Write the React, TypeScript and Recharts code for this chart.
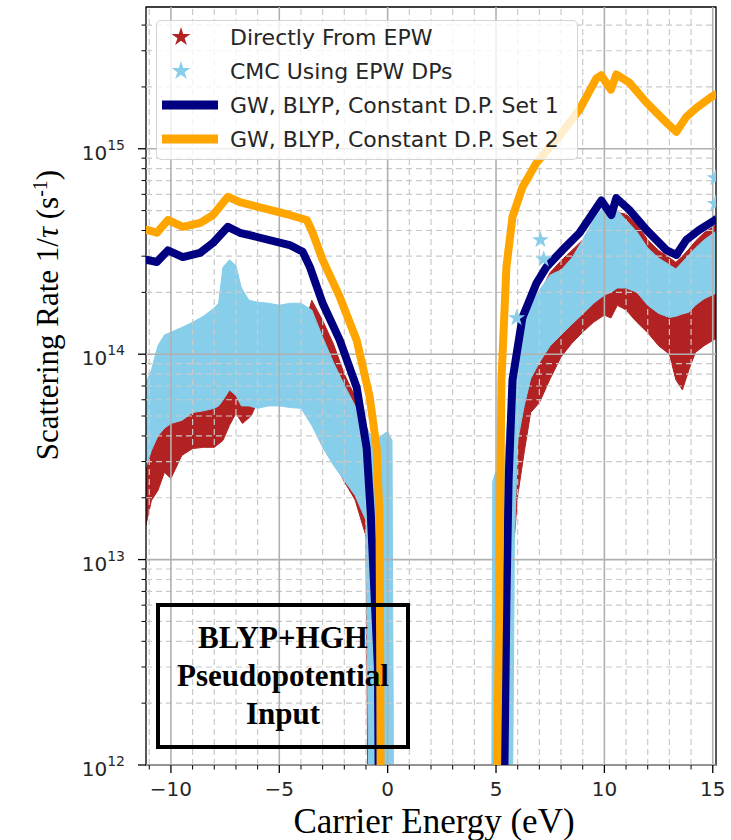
import React from "react";
import {
  ComposedChart,
  Area,
  Line,
  Scatter,
  XAxis,
  YAxis,
  ReferenceLine,
  ReferenceArea,
  Legend,
  Symbols,
} from "recharts";

// Directly From EPW (red cloud): [energy eV, lower edge, upper edge]
const epwValence: [number, number, number][] = [
  [-11.2, 1.4e13, 3.0e13],
  [-10.9, 1.94e13, 3.7e13],
  [-10.6, 2.17e13, 4.3e13],
  [-10.3, 2.66e13, 4.7e13],
  [-10.0, 2.48e13, 5.0e13],
  [-9.5, 3.21e13, 5.2e13],
  [-9.0, 3.47e13, 5.7e13],
  [-8.5, 3.52e13, 5.8e13],
  [-8.0, 3.52e13, 6.0e13],
  [-7.6, 3.8e13, 6.5e13],
  [-7.3, 4.5e13, 7.3e13],
  [-7.0, 5.15e13, 7.0e13],
  [-6.7, 4.6e13, 6.2e13],
  [-6.3, 5.0e13, 6.2e13],
  [-6.0, 5.9e13, 6.5e13],
  [-5.0, 6.0e13, 8.0e13],
  [-4.0, 6.0e13, 1.2e14],
  [-3.5, 5.5e13, 1.83e14],
  [-3.0, 3.7e13, 1.46e14],
  [-2.5, 3.0e13, 1.12e14],
  [-2.0, 2.4e13, 8.0e13],
  [-1.5, 1.95e13, 6.2e13],
  [-1.0, 1.3e13, 4.5e13],
  [-0.9, 5e11, 4.2e13],
  [-0.5, 5e11, 3.5e13],
  [-0.2, 5e11, 3.0e13],
  [0.1, 5e11, 5e11],
];

const epwConduction: [number, number, number][] = [
  [5.76, 9.9e12, 1.0e13],
  [6.0, 2.05e13, 9.0e13],
  [6.3, 3.33e13, 1.4e14],
  [6.6, 5.2e13, 1.65e14],
  [7.0, 5.8e13, 1.95e14],
  [7.5, 7.6e13, 2.5e14],
  [8.0, 9.7e13, 2.85e14],
  [8.5, 1.13e14, 3.2e14],
  [9.0, 1.28e14, 3.6e14],
  [9.5, 1.43e14, 4.3e14],
  [10.0, 1.55e14, 5.0e14],
  [10.3, 1.5e14, 4.6e14],
  [10.6, 1.73e14, 4.9e14],
  [11.0, 1.64e14, 4.8e14],
  [11.5, 1.43e14, 4.3e14],
  [12.0, 1.27e14, 3.6e14],
  [12.5, 1.1e14, 3.2e14],
  [13.0, 1.0e14, 2.95e14],
  [13.3, 7.5e13, 2.8e14],
  [13.6, 6.7e13, 3.0e14],
  [13.9, 8.4e13, 3.25e14],
  [14.2, 1.02e14, 3.55e14],
  [14.6, 1.1e14, 3.9e14],
  [15.2, 1.2e14, 4.3e14],
];

// CMC Using EPW DPs (light blue cloud)
const cmcValence: [number, number, number][] = [
  [-11.2, 2.72e13, 7.06e13],
  [-10.9, 3.4e13, 8.36e13],
  [-10.6, 4.0e13, 1.1e14],
  [-10.3, 4.36e13, 1.24e14],
  [-10.0, 4.6e13, 1.28e14],
  [-9.5, 4.76e13, 1.35e14],
  [-9.0, 5.2e13, 1.43e14],
  [-8.5, 5.3e13, 1.53e14],
  [-8.0, 5.45e13, 1.68e14],
  [-7.8, 5.6e13, 1.77e14],
  [-7.6, 5.97e13, 2.65e14],
  [-7.3, 6.7e13, 2.88e14],
  [-7.0, 6.3e13, 2.7e14],
  [-6.75, 5.6e13, 2.1e14],
  [-6.4, 5.6e13, 1.83e14],
  [-6.0, 5.45e13, 1.79e14],
  [-5.5, 5.6e13, 1.77e14],
  [-5.0, 5.6e13, 1.73e14],
  [-4.5, 5.5e13, 1.77e14],
  [-4.0, 5.45e13, 1.77e14],
  [-3.5, 4.5e13, 1.64e14],
  [-3.0, 3.52e13, 1.21e14],
  [-2.5, 2.88e13, 9.1e13],
  [-2.0, 2.43e13, 7.06e13],
  [-1.5, 2.05e13, 5.6e13],
  [-1.0, 1.55e13, 4.36e13],
  [-0.85, 5e11, 4.1e13],
  [-0.5, 5e11, 3.8e13],
  [-0.3, 5e11, 4.0e13],
  [0.0, 5e11, 4.2e13],
  [0.2, 5e11, 3.8e13],
  [0.28, 5e11, 5e11],
];

const cmcConduction: [number, number, number][] = [
  [4.8, 5e11, 5e11],
  [4.85, 5e11, 2.4e13],
  [5.0, 5e11, 2.7e13],
  [5.4, 5e11, 3.0e13],
  [5.6, 5e11, 6.0e13],
  [5.75, 5e11, 7.6e13],
  [5.85, 1.24e13, 8.6e13],
  [6.0, 3.8e13, 9.9e13],
  [6.3, 5.6e13, 1.47e14],
  [6.6, 7.6e13, 1.73e14],
  [7.0, 9.1e13, 2.05e14],
  [7.5, 1.1e14, 2.43e14],
  [8.0, 1.24e14, 2.57e14],
  [8.5, 1.4e14, 2.94e14],
  [9.0, 1.57e14, 3.6e14],
  [9.5, 1.77e14, 4.5e14],
  [10.0, 1.94e14, 5.3e14],
  [10.3, 2.0e14, 4.76e14],
  [10.6, 2.1e14, 5.0e14],
  [11.0, 2.1e14, 4.5e14],
  [11.5, 2.0e14, 3.94e14],
  [12.0, 1.73e14, 3.29e14],
  [12.5, 1.58e14, 2.94e14],
  [13.0, 1.51e14, 2.72e14],
  [13.3, 1.53e14, 2.6e14],
  [13.6, 1.57e14, 2.81e14],
  [13.9, 1.6e14, 3.04e14],
  [14.2, 1.73e14, 3.29e14],
  [14.6, 1.86e14, 3.6e14],
  [15.2, 1.99e14, 4.0e14],
];

// a few stray CMC stars sticking out of the cloud
const cmcStrays: [number, number][] = [
  [7.05, 3.6e14],
  [7.2, 2.9e14],
  [5.95, 1.5e14],
  [15.12, 7.2e14],
  [15.12, 5.4e14],
];

// GW, BLYP, Constant D.P. Set 1 (navy)
const set1Valence: [number, number][] = [
  [-11.2, 2.85e14],
  [-11.1, 2.88e14],
  [-10.65, 2.81e14],
  [-10.14, 3.2e14],
  [-9.45, 2.97e14],
  [-8.66, 3.11e14],
  [-8.06, 3.48e14],
  [-7.37, 4.17e14],
  [-6.82, 3.9e14],
  [-4.52, 3.4e14],
  [-3.92, 3.15e14],
  [-3.59, 2.66e14],
  [-3.0, 1.77e14],
  [-2.21, 1.17e14],
  [-1.43, 6.9e13],
  [-0.97, 3.5e13],
  [-0.78, 1.68e13],
  [-0.45, 3e12],
  [-0.4, 5e11],
];

const set1Conduction: [number, number][] = [
  [5.3, 5e11],
  [5.39, 1e12],
  [5.48, 6.3e12],
  [5.58, 2.43e13],
  [5.76, 7.5e13],
  [6.22, 1.51e14],
  [6.87, 2.22e14],
  [7.33, 2.66e14],
  [8.06, 3.21e14],
  [8.85, 3.89e14],
  [9.86, 5.6e14],
  [10.32, 4.76e14],
  [10.55, 5.75e14],
  [11.15, 5.04e14],
  [11.94, 4.03e14],
  [12.86, 3.21e14],
  [13.32, 3.04e14],
  [13.78, 3.6e14],
  [14.38, 4.03e14],
  [15.12, 4.51e14],
  [15.2, 4.6e14],
];

// GW, BLYP, Constant D.P. Set 2 (orange)
const set2Valence: [number, number][] = [
  [-11.2, 4.0e14],
  [-11.1, 4.03e14],
  [-10.65, 3.9e14],
  [-10.14, 4.5e14],
  [-9.45, 4.17e14],
  [-8.66, 4.35e14],
  [-8.06, 4.76e14],
  [-7.37, 5.84e14],
  [-6.82, 5.5e14],
  [-4.52, 4.76e14],
  [-3.73, 4.5e14],
  [-3.46, 3.9e14],
  [-3.0, 2.88e14],
  [-2.21, 1.9e14],
  [-1.43, 1.17e14],
  [-0.83, 6.2e13],
  [-0.51, 3.5e13],
  [-0.38, 1.67e13],
  [-0.34, 3e12],
  [-0.32, 5e11],
];

const set2Conduction: [number, number][] = [
  [4.98, 5e11],
  [5.05, 1e12],
  [5.15, 6.3e12],
  [5.25, 7.5e13],
  [5.48, 2.66e14],
  [5.76, 4.66e14],
  [6.22, 6.5e14],
  [6.87, 8.55e14],
  [7.79, 1.11e15],
  [8.85, 1.55e15],
  [9.63, 2.2e15],
  [9.85, 2.28e15],
  [10.3, 1.94e15],
  [10.55, 2.3e15],
  [11.15, 2.1e15],
  [11.94, 1.68e15],
  [12.86, 1.34e15],
  [13.32, 1.21e15],
  [13.78, 1.43e15],
  [14.24, 1.58e15],
  [14.98, 1.8e15],
  [15.2, 1.85e15],
];

const xMajorTicks = [-10, -5, 0, 5, 10, 15];
const xMinorTicks = [-11, -9, -8, -7, -6, -4, -3, -2, -1, 1, 2, 3, 4, 6, 7, 8, 9, 11, 12, 13, 14];
const yMajorTicks = [1e12, 1e13, 1e14, 1e15];
const yMinorTicks = [
  2e12, 3e12, 4e12, 5e12, 6e12, 7e12, 8e12, 9e12,
  2e13, 3e13, 4e13, 5e13, 6e13, 7e13, 8e13, 9e13,
  2e14, 3e14, 4e14, 5e14, 6e14, 7e14, 8e14, 9e14,
  2e15, 3e15, 4e15,
];

const legendItems = [
  { label: "Directly From EPW", color: "#b22222", kind: "star" },
  { label: "CMC Using EPW DPs", color: "#87ceeb", kind: "star" },
  { label: "GW, BLYP, Constant D.P. Set 1", color: "#000080", kind: "line" },
  { label: "GW, BLYP, Constant D.P. Set 2", color: "#ffa500", kind: "line" },
];

const X_DOMAIN: [number, number] = [-11.15, 15.15];
const Y_DOMAIN: [number, number] = [1e12, 4.9e15];

const toBand = (rows: [number, number, number][]) =>
  rows.map(([e, lo, hi]) => ({ e, r: [lo, hi] }));
const toCurve = (rows: [number, number][]) => rows.map(([e, r]) => ({ e, r }));

const TICK_FONT = "DejaVu Sans, sans-serif";
const SERIF = "Liberation Serif, Times New Roman, serif";

function XTick(props: any) {
  const { x, y, payload } = props;
  const v = payload.value;
  const major = xMajorTicks.includes(v);
  const len = major ? 8 : 4.5;
  return (
    <g>
      <line x1={x} x2={x} y1={y} y2={y + len} stroke="#000" strokeWidth={major ? 1.3 : 1} />
      {major && (
        <text x={x} y={y + 31} textAnchor="middle" fontFamily={TICK_FONT} fontSize={20} fill="#262626">
          {v < 0 ? "\u2212" + Math.abs(v) : v}
        </text>
      )}
    </g>
  );
}

function YTick(props: any) {
  const { x, y, payload } = props;
  const v = payload.value;
  const major = yMajorTicks.includes(v);
  const len = major ? 8 : 4.5;
  return (
    <g>
      <line x1={x - len} x2={x} y1={y} y2={y} stroke="#000" strokeWidth={major ? 1.3 : 1} />
      {major && (
        <text x={x - 21} y={y + 11} textAnchor="end" fontFamily={TICK_FONT} fontSize={20} fill="#262626">
          10
          <tspan dy={-10} fontSize={14}>
            {Math.round(Math.log10(v))}
          </tspan>
        </text>
      )}
    </g>
  );
}

function YLabel() {
  return (
    <text transform="translate(48,315) rotate(-90)" y={10} textAnchor="middle" fontFamily={SERIF} fontSize={31} fill="#000">
      Scattering Rate 1/<tspan fontStyle="italic">τ</tspan> (s
      <tspan dy={-11} fontSize={20}>
        -1
      </tspan>
      <tspan dy={11}>)</tspan>
    </text>
  );
}

function XLabel() {
  return (
    <text x={434} y={833} textAnchor="middle" fontFamily={SERIF} fontSize={35} fill="#000">
      Carrier Energy (eV)
    </text>
  );
}

function LegendBox() {
  return (
    <div
      style={{
        width: 422,
        height: 140,
        boxSizing: "border-box",
        border: "1px solid #d4d4d4",
        borderRadius: 5,
        background: "rgba(255,255,255,0.8)",
      }}
    >
      <svg width={420} height={138} style={{ display: "block" }}>
        {legendItems.map((it, i) => {
          const cy = 16 + i * 34;
          return (
            <g key={it.label}>
              {it.kind === "star" ? (
                <Symbols cx={24} cy={cy} type="star" size={110} fill={it.color} />
              ) : (
                <line x1={5} x2={61} y1={cy} y2={cy} stroke={it.color} strokeWidth={9} />
              )}
              <text x={73} y={cy + 8} fontFamily={TICK_FONT} fontSize={22} fill="#262626">
                {it.label}
              </text>
            </g>
          );
        })}
      </svg>
    </div>
  );
}

const starShape = (p: any) => <Symbols cx={p.cx} cy={p.cy} type="star" size={90} fill="#87ceeb" />;

export default function App() {
  return (
    <div style={{ position: "absolute", left: 0, top: 0, width: 731, height: 840, background: "#fff" }}>
      <ComposedChart width={731} height={840} margin={{ top: 7, right: 15, bottom: 0, left: 0 }}>
        <XAxis
          type="number"
          dataKey="e"
          domain={X_DOMAIN}
          allowDataOverflow
          ticks={[...xMajorTicks, ...xMinorTicks].sort((a, b) => a - b)}
          interval={0}
          tickSize={0}
          tickMargin={0}
          axisLine={false}
          tickLine={false}
          tick={<XTick />}
          height={75}
          label={<XLabel />}
        />
        <YAxis
          type="number"
          scale="log"
          domain={Y_DOMAIN}
          allowDataOverflow
          ticks={[...yMajorTicks, ...yMinorTicks].sort((a, b) => a - b)}
          interval={0}
          tickSize={0}
          tickMargin={0}
          axisLine={false}
          tickLine={false}
          tick={<YTick />}
          width={146}
          label={<YLabel />}
        />

        {xMinorTicks.map((v) => (
          <ReferenceLine key={"gxm" + v} x={v} stroke="#c9c9c9" strokeWidth={1.2} strokeDasharray="6 4" />
        ))}
        {yMinorTicks.map((v) => (
          <ReferenceLine key={"gym" + v} y={v} stroke="#c9c9c9" strokeWidth={1.2} strokeDasharray="6 4" />
        ))}
        {xMajorTicks.map((v) => (
          <ReferenceLine key={"gx" + v} x={v} stroke="#b0b0b0" strokeWidth={1.6} />
        ))}
        {yMajorTicks.map((v) => (
          <ReferenceLine key={"gy" + v} y={v} stroke="#b0b0b0" strokeWidth={1.6} />
        ))}

        <Area data={toBand(epwValence)} dataKey="r" type="linear" fill="#b22222" stroke="#b22222" strokeWidth={1} fillOpacity={1} isAnimationActive={false} />
        <Area data={toBand(epwConduction)} dataKey="r" type="linear" fill="#b22222" stroke="#b22222" strokeWidth={1} fillOpacity={1} isAnimationActive={false} />
        <Area data={toBand(cmcValence)} dataKey="r" type="linear" fill="#87ceeb" stroke="#87ceeb" strokeWidth={1} fillOpacity={1} isAnimationActive={false} />
        <Area data={toBand(cmcConduction)} dataKey="r" type="linear" fill="#87ceeb" stroke="#87ceeb" strokeWidth={1} fillOpacity={1} isAnimationActive={false} />
        <Scatter data={toCurve(cmcStrays)} dataKey="r" shape={starShape} isAnimationActive={false} />

        <Line data={toCurve(set1Valence)} dataKey="r" type="linear" stroke="#000080" strokeWidth={8} strokeLinejoin="round" dot={false} isAnimationActive={false} />
        <Line data={toCurve(set1Conduction)} dataKey="r" type="linear" stroke="#000080" strokeWidth={8} strokeLinejoin="round" dot={false} isAnimationActive={false} />
        <Line data={toCurve(set2Valence)} dataKey="r" type="linear" stroke="#ffa500" strokeWidth={8} strokeLinejoin="round" dot={false} isAnimationActive={false} />
        <Line data={toCurve(set2Conduction)} dataKey="r" type="linear" stroke="#ffa500" strokeWidth={8} strokeLinejoin="round" dot={false} isAnimationActive={false} />

        <ReferenceArea x1={X_DOMAIN[0]} x2={X_DOMAIN[1]} y1={Y_DOMAIN[0]} y2={Y_DOMAIN[1]} fill="none" stroke="#000" strokeWidth={1.3} />

        <Legend
          layout="horizontal"
          verticalAlign="middle"
          align="center"
          wrapperStyle={{ left: 156, top: 20, width: 422, height: 140 }}
          content={() => <LegendBox />}
        />
      </ComposedChart>

      <div
        style={{
          position: "absolute",
          left: 156,
          top: 603,
          width: 254,
          height: 146,
          boxSizing: "border-box",
          border: "4px solid #000",
          display: "flex",
          flexDirection: "column",
          justifyContent: "center",
          alignItems: "center",
          fontFamily: SERIF,
          fontWeight: "bold",
          fontSize: 31,
          lineHeight: "38px",
          color: "#000",
        }}
      >
        <div>BLYP+HGH</div>
        <div>Pseudopotential</div>
        <div>Input</div>
      </div>
    </div>
  );
}
